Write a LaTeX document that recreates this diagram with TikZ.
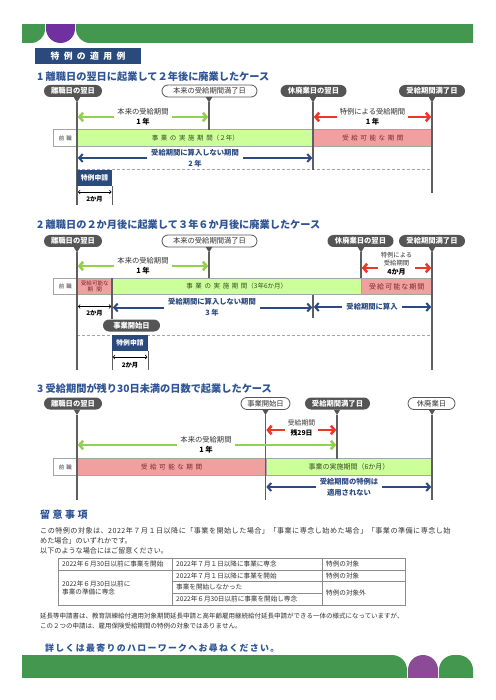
\documentclass[tikz,border=0pt]{standalone}
\usepackage{fontspec}
\setmainfont{Noto Sans CJK JP}
\newfontfamily\lsfont[LetterSpace=40]{Noto Sans CJK JP}
\newfontfamily\lswide[LetterSpace=50]{Noto Sans CJK JP}
\newfontfamily\lsmid[LetterSpace=25]{Noto Sans CJK JP}
\newfontfamily\lsnarrow[LetterSpace=15]{Noto Sans CJK JP}
\newfontfamily\lsjust[LetterSpace=6.5]{Noto Sans CJK JP}
\usetikzlibrary{arrows.meta,calc}
\newcommand{\myfs}[2]{\fontsize{#1}{#2}\selectfont}
\definecolor{topgreen}{RGB}{67,151,79}
\definecolor{toppurple}{RGB}{112,48,160}
\definecolor{botpurple}{RGB}{139,75,150}
\definecolor{navy}{RGB}{42,74,125}
\definecolor{headblue}{RGB}{46,84,150}
\definecolor{callgray}{RGB}{85,85,85}
\definecolor{linegray}{RGB}{95,95,95}
\definecolor{arrgreen}{RGB}{146,208,80}
\definecolor{arrred}{RGB}{235,55,40}
\definecolor{arrblue}{RGB}{43,74,130}
\definecolor{limebar}{RGB}{204,255,153}
\definecolor{pinkbar}{RGB}{241,160,160}
\definecolor{bargray}{RGB}{165,165,165}
\definecolor{pinktext}{RGB}{120,40,40}
\definecolor{limetext}{RGB}{55,75,35}
\definecolor{txtgray}{RGB}{50,50,50}
\newcommand{\callptr}[1]{\fill[callgray] ($(#1)+(-3.3,-5.5)$) -- ($(#1)+(3.3,-5.5)$) -- (#1) -- cycle;}
\begin{document}
\begin{tikzpicture}[x=1pt,y=-1pt,
  calld/.style={fill=callgray,text=white,font=\bfseries\myfs{7.3}{8},rounded corners=6pt,minimum height=12pt,inner xsep=1pt,inner ysep=0pt},
  callw/.style={fill=white,draw=callgray,line width=0.8pt,text=txtgray,font=\myfs{7.3}{8},rounded corners=6pt,minimum height=12pt,inner xsep=1pt,inner ysep=0pt},
  vline/.style={draw=linegray,line width=1.6pt},
  tline/.style={draw=linegray,line width=1pt},
  lbl/.style={align=center,font=\myfs{7.3}{10},text=txtgray,inner xsep=3pt,inner ysep=0pt},
  blbl/.style={align=center,font=\bfseries\myfs{7.3}{11},text=arrblue,inner xsep=4pt,inner ysep=0pt},
  garr/.style={draw=arrgreen,line width=2.6pt,shorten >=0.8pt,-{Straight Barb[length=3.6pt,width=8.5pt]}},
  rarr/.style={draw=arrred,line width=2.6pt,shorten >=0.8pt,-{Straight Barb[length=3.6pt,width=8.5pt]}},
  barr/.style={draw=arrblue,line width=2pt,shorten >=0.8pt,-{Straight Barb[length=3.6pt,width=8pt]}},
  darr/.style={draw=black,line width=0.6pt,{Straight Barb[length=1.8pt,width=4pt]}-{Straight Barb[length=1.8pt,width=4pt]}},
  barbox/.style={draw=bargray,line width=0.6pt,minimum height=16.5pt,inner sep=0pt,anchor=west},
  prevbox/.style={barbox,fill=white,minimum width=24pt,font=\myfs{5.5}{6},text=txtgray},
  limebox/.style={barbox,fill=limebar,text=limetext,font=\myfs{6.5}{7}},
  pinkbox/.style={barbox,fill=pinkbar,text=pinktext,font=\myfs{6.5}{7}},
  applybox/.style={fill=navy,text=white,font=\bfseries\myfs{6.8}{7},minimum height=16pt,inner sep=0pt},
  monthtxt/.style={font=\bfseries\myfs{6.3}{7},text=black,inner sep=0pt},
  dashln/.style={draw=bargray,line width=0.7pt,dash pattern=on 3pt off 2pt},
  heading/.style={anchor=west,font=\bfseries\myfs{10.2}{11},text=headblue,inner sep=0pt},
  tablerule/.style={draw=black!45,line width=0.6pt},
  cell/.style={anchor=west,font=\myfs{6.6}{8},text=txtgray,inner sep=0pt,align=left},
  body/.style={anchor=north west,font=\myfs{7.1}{10},text=txtgray,inner sep=0pt,align=left}
]
\useasboundingbox (0,0) rectangle (495,700);
\fill[white] (0,0) rectangle (495,700);
% ---------- top band
\begin{scope}
\clip (22,25) rectangle (473,43);
\fill[topgreen,rounded corners=14pt] (0,0) rectangle (45,43);
\fill[toppurple,rounded corners=14.5pt] (46,0) rectangle (75,43);
\fill[topgreen,rounded corners=14pt] (76,43) rectangle (500,0);
\end{scope}
\node[fill=navy,text=white,font=\lswide\bfseries\myfs{8.8}{10},minimum width=106pt,minimum height=16pt,inner sep=0pt] (title) at (88,56) {特例の適用例};

% ================= CASE 1
\node[heading] (h1) at (37,76.5) {1 離職日の翌日に起業して２年後に廃業したケース};
\node[calld,minimum width=58pt] (a1) at (73,91) {離職日の翌日};
\node[callw,minimum width=95pt] (b1) at (209.5,91) {本来の受給期間満了日};
\node[calld,minimum width=66pt] (c1) at (313.5,91) {休廃業日の翌日};
\node[calld,minimum width=66pt] (d1) at (432,91) {受給期間満了日};
\coordinate (pa1) at (77,102.5); \coordinate (pb1) at (209,102.5);
\coordinate (pc1) at (313,102.5); \coordinate (pd1) at (432,102.5);
\coordinate (ea1) at (77,205); \coordinate (eb1) at (209,130);
\coordinate (ec1) at (313,170); \coordinate (ed1) at (432,193);
\node[prevbox] (pv1) at (53,138) {前\hspace{2pt}職};
\node[limebox,minimum width=236pt] (bl1) at (77,138) {{\lsfont 事業の実施期間}（２年）};
\node[pinkbox,minimum width=119pt] (pk1) at (313,138) {\lsfont 受給可能な期間};
\draw[dashln] (77,169.5) -- (432,169.5);
\foreach \n in {a1,b1,c1,d1} {\callptr{p\n}}
\draw[vline] (pa1) -- (ea1);
\draw[vline] (pb1) -- (eb1);
\draw[vline] (pc1) -- (ec1);
\draw[vline] (pd1) -- (ed1);
\node[lbl] (g1) at (143,117) {本来の受給期間\\\textcolor{black}{\textbf{1 年}}};
\draw[garr] (g1.west) -- (g1.west -| pa1);
\draw[garr] (g1.east) -- (g1.east -| pb1);
\node[lbl] (r1) at (372.5,117) {特例による受給期間\\\textcolor{black}{\textbf{1 年}}};
\draw[rarr] (r1.west) -- (r1.west -| pc1);
\draw[rarr] (r1.east) -- (r1.east -| pd1);
\node[blbl] (u1) at (195,158) {受給期間に算入しない期間\\2 年};
\draw[barr] (u1.west) -- (u1.west -| pa1);
\draw[barr] (u1.east) -- (u1.east -| pc1);
\node[applybox,minimum width=35pt] (s1) at (94.5,178) {特例申請};
\coordinate (k1) at (112,186); \coordinate (k1b) at (112,205);
\draw[tline] (k1) -- (k1b);
\draw[darr] (78,192) -- (111.5,192);
\node[monthtxt] (m1) at (94.5,199.5) {2か月};

% ================= CASE 2
\node[heading] (h2) at (37,225) {2 離職日の２か月後に起業して３年６か月後に廃業したケース};
\node[calld,minimum width=58pt] (a2) at (73,241) {離職日の翌日};
\node[callw,minimum width=95pt] (b2) at (209.5,241) {本来の受給期間満了日};
\node[calld,minimum width=66pt] (c2) at (360.5,241) {休廃業日の翌日};
\node[calld,minimum width=66pt] (d2) at (432,241) {受給期間満了日};
\coordinate (pa2) at (77,252.5); \coordinate (pb2) at (209,252.5);
\coordinate (pc2) at (361,252.5); \coordinate (pd2) at (432,252.5);
\coordinate (ea2) at (77,370); \coordinate (eb2) at (209,278);
\coordinate (ec2) at (361,278); \coordinate (ed2) at (432,370);
\node[prevbox] (pv2) at (53,286.5) {前\hspace{2pt}職};
\node[pinkbox,minimum width=35pt,align=center,font=\myfs{5.6}{6.6}] (pk2a) at (77,286.5) {受給可能な\\期\hspace{3pt}間};
\node[limebox,minimum width=249pt] (bl2) at (112,286.5) {{\lsfont 事業の実施期間}（3年6か月）};
\node[pinkbox,minimum width=71pt,font=\myfs{7}{8}] (pk2b) at (361,286.5) {\lsnarrow 受給可能な期間};
\draw[dashln] (77,335) -- (432,335);
\foreach \n in {a2,b2,c2,d2} {\callptr{p\n}}
\draw[vline] (pa2) -- (ea2);
\draw[vline] (pb2) -- (eb2);
\draw[vline] (pc2) -- (ec2);
\draw[vline] (pd2) -- (ed2);
\node[calld,minimum width=57pt] (e2) at (131.5,325.5) {事業開始日};
\coordinate (q2) at (112,278);
\draw[vline] (q2) -- (q2 |- e2.north);
\coordinate (w2) at (313,295); \coordinate (w2b) at (313,318);
\draw[vline] (w2) -- (w2b);
\node[lbl] (g2) at (143,266) {本来の受給期間\\\textcolor{black}{\textbf{1 年}}};
\draw[garr] (g2.west) -- (g2.west -| pa2);
\draw[garr] (g2.east) -- (g2.east -| pb2);
\node[lbl,font=\myfs{6.3}{8.3}] (r2) at (396.5,263.5) {特例による\\受給期間\\\textcolor{black}{\textbf{\myfs{7}{8.3}4か月}}};
\draw[rarr] ([yshift=-4.5pt]r2.west) -- ([yshift=-4.5pt]r2.west -| pc2);
\draw[rarr] ([yshift=-4.5pt]r2.east) -- ([yshift=-4.5pt]r2.east -| pd2);
\node[blbl] (u2) at (212,307.5) {受給期間に算入しない期間\\3 年};
\draw[barr] (u2.west) -- (u2.west -| q2);
\draw[barr] (u2.east) -- (u2.east -| w2);
\node[blbl] (u3) at (372,307) {受給期間に算入};
\draw[barr] (u3.west) -- (u3.west -| w2);
\draw[barr] (u3.east) -- (u3.east -| pd2);
\draw[darr] (78,306.5) -- (111.2,306.5);
\node[monthtxt] (m2) at (94.5,313.5) {2か月};
\node[applybox,minimum width=36pt] (s2) at (130,343) {特例申請};
\coordinate (k2) at (112,351); \coordinate (k2b) at (112,370);
\coordinate (k3) at (148,351); \coordinate (k3b) at (148,370);
\draw[tline] (k2) -- (k2b);
\draw[tline] (k3) -- (k3b);
\draw[darr] (112.8,357) -- (147.4,357);
\node[monthtxt] (m3) at (130,365) {2か月};

% ================= CASE 3
\node[heading] (h3) at (37,388.5) {3 受給期間が残り30日未満の日数で起業したケース};
\node[calld,minimum width=58pt] (a3) at (73,403.5) {離職日の翌日};
\node[callw,minimum width=49pt] (b3) at (265.5,403.5) {事業開始日};
\node[calld,minimum width=65pt] (c3) at (337.5,403.5) {受給期間満了日};
\node[callw,minimum width=47pt] (d3) at (431.5,403.5) {休廃業日};
\coordinate (pa3) at (77,415); \coordinate (pb3) at (265.5,415);
\coordinate (pc3) at (337,415); \coordinate (pd3) at (432,415);
\coordinate (ea3) at (77,500); \coordinate (eb3) at (265.5,500);
\coordinate (ec3) at (337,459); \coordinate (ed3) at (432,500);
\node[prevbox] (pv3) at (53,467) {前\hspace{2pt}職};
\node[pinkbox,minimum width=188.5pt] (pk3) at (77,467) {\lsfont 受給可能な期間};
\node[limebox,minimum width=166.5pt,font=\myfs{7}{8}] (bl3) at (265.5,467) {事業の実施期間（6か月）};
\foreach \n in {a3,b3,c3,d3} {\callptr{p\n}}
\draw[vline] (pa3) -- (ea3);
\draw[vline] (pb3) -- (eb3);
\draw[vline] (pc3) -- (ec3);
\draw[vline] (pd3) -- (ed3);
\node[lbl,font=\myfs{6.8}{10}] (r3) at (301.5,428) {受給期間\\\textcolor{black}{\textbf{残29日}}};
\draw[rarr] ([yshift=-2pt]r3.west) -- ([yshift=-2pt]r3.west -| pb3);
\draw[rarr] ([yshift=-2pt]r3.east) -- ([yshift=-2pt]r3.east -| pc3);
\node[lbl] (g3) at (206,445) {本来の受給期間\\\textcolor{black}{\textbf{1 年}}};
\draw[garr] (g3.west) -- (g3.west -| pa3);
\draw[garr] (g3.east) -- (g3.east -| pc3);
\node[blbl] (u4) at (349,487) {受給期間の特例は\\適用されない};
\draw[barr] (u4.west) -- (u4.west -| pb3);
\draw[barr] (u4.east) -- (u4.east -| pd3);

% ================= NOTES
\node[anchor=west,font=\lsmid\bfseries\myfs{10}{11},text=headblue,inner sep=0pt] (nh) at (40,515) {留意事項};
\node[body] (n1) at (40,527) {{\lsjust この特例の対象は、2022年７月１日以降に「事業を開始した場合」「事業に専念し始めた場合」「事業の準備に専念し始}\\めた場合」のいずれかです。\\以下のような場合にはご留意ください。};

\draw[tablerule] (58,558.5) rectangle (405,605);
\draw[tablerule] (172,558.5) -- (172,605);
\draw[tablerule] (322,558.5) -- (322,605);
\draw[tablerule] (58,570) -- (405,570);
\draw[tablerule] (172,581.5) -- (405,581.5);
\draw[tablerule] (172,593.2) -- (322,593.2);
\node[cell] (t11) at (62,564.3) {2022年６月30日以前に事業を開始};
\node[cell] (t12) at (176,564.3) {2022年７月１日以降に事業に専念};
\node[cell] (t13) at (326,564.3) {特例の対象};
\node[cell] (t21) at (62,588) {2022年６月30日以前に\\事業の準備に専念};
\node[cell] (t22) at (176,575.8) {2022年７月１日以降に事業を開始};
\node[cell] (t23) at (326,575.8) {特例の対象};
\node[cell] (t32) at (176,587.4) {事業を開始しなかった};
\node[cell] (t33) at (326,593.3) {特例の対象外};
\node[cell] (t42) at (176,599.1) {2022年６月30日以前に事業を開始し専念};

\node[body,font=\myfs{6.5}{10}] (n2) at (40,613) {延長等申請書は、教育訓練給付適用対象期間延長申請と高年齢雇用継続給付延長申請ができる一体の様式になっていますが、\\この２つの申請は、雇用保険受給期間の特例の対象ではありません。};
\node[anchor=west,font=\lsnarrow\bfseries\myfs{8.9}{10},text=headblue,inner sep=0pt] (foot) at (45,648) {詳しくは最寄りのハローワークへお尋ねください。};

% ---------- bottom band
\begin{scope}
\clip (22,655) rectangle (473,677);
\fill[topgreen,rounded corners=15pt] (0,655) rectangle (407,720);
\fill[botpurple,rounded corners=15pt] (408,655) rectangle (438,720);
\fill[topgreen,rounded corners=15pt] (439,655) rectangle (473,720);
\end{scope}
\end{tikzpicture}
\end{document}
